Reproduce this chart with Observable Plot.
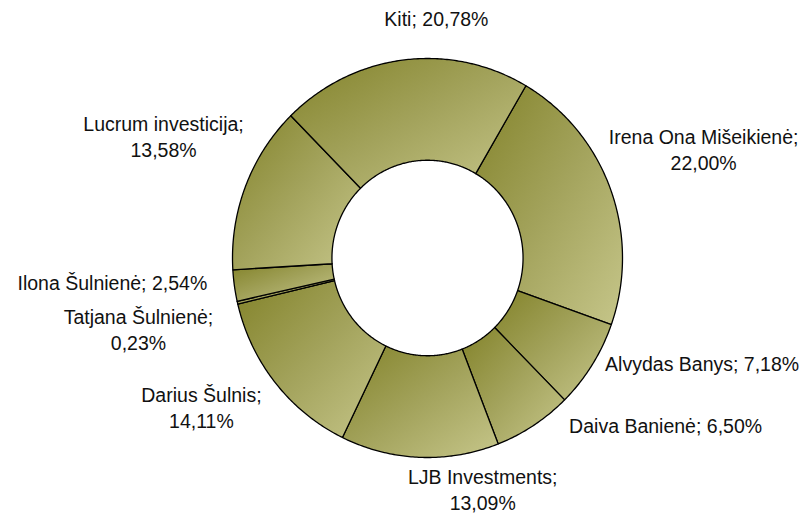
<!DOCTYPE html>
<html>
<head>
<meta charset="utf-8">
<script src="https://cdn.jsdelivr.net/npm/d3@7"></script>
<script src="https://cdn.jsdelivr.net/npm/@observablehq/plot@0.6"></script>
<style>
  html, body { margin: 0; padding: 0; background: #ffffff; }
  #chart svg { display: block; }
</style>
</head>
<body>
<svg width="0" height="0" style="position:absolute">
  <defs>
    <linearGradient id="olive" x1="0" y1="0" x2="1" y2="1">
      <stop offset="0" stop-color="#83832a"/>
      <stop offset="0.5" stop-color="#a3a35c"/>
      <stop offset="1" stop-color="#c6c68a"/>
    </linearGradient>
  </defs>
</svg>
<div id="chart"></div>
<script>
// ---- data ----
const holders = ["Irena Ona Mišeikienė", "Alvydas Banys", "Daiva Banienė", "LJB Investments", "Darius Šulnis", "Tatjana Šulnienė", "Ilona Šulnienė", "Lucrum investicija", "Kiti"];
const shares = [22.00, 7.18, 6.50, 13.09, 14.11, 0.23, 2.54, 13.58, 20.78];
const wrapLabel = [true, false, false, true, true, true, false, true, false];

// ---- layout ----
const W = 802, H = 514;
const M = {top: 58, right: 180, bottom: 57, left: 232};
const rx = (W - M.left - M.right) / 2, ry = (H - M.top - M.bottom) / 2;
const startDeg = 30.3;
const innerRatio = 0.49;
// label offsets in pixels from the slice's outer mid point
const labelNudge = [[93, -41], [110, -2], [132, -1], [63, 31], [-74, 24], [-99, 26], [-122, -4], [-82, -51], [33, -42]];

const total = d3.sum(shares);
const ends = Array.from(d3.cumsum(shares));
const rad = d => d * Math.PI / 180;

const ring = [];
const labels = [];
shares.forEach((v, i) => {
  const a0 = rad(startDeg + (ends[i] - v) / total * 360);
  const a1 = rad(startDeg + ends[i] / total * 360);
  const n = Math.max(2, Math.ceil((a1 - a0) / 0.01));
  const pts = [];
  for (let k = 0; k <= n; k++) { const a = a0 + (a1 - a0) * k / n; pts.push([Math.sin(a), Math.cos(a)]); }
  for (let k = n; k >= 0; k--) { const a = a0 + (a1 - a0) * k / n; pts.push([innerRatio * Math.sin(a), innerRatio * Math.cos(a)]); }
  pts.push(pts[0]);
  pts.forEach(([x, y]) => ring.push({slice: holders[i], x, y}));
  const mid = (a0 + a1) / 2;
  const pct = shares[i].toFixed(2).replace(".", ",") + "%";
  labels.push({
    text: holders[i] + ";" + (wrapLabel[i] ? "\n" : " ") + pct,
    x: Math.sin(mid) + labelNudge[i][0] / rx,
    y: Math.cos(mid) - labelNudge[i][1] / ry
  });
});

const chart = Plot.plot({
  width: W,
  height: H,
  marginTop: M.top,
  marginRight: M.right,
  marginBottom: M.bottom,
  marginLeft: M.left,
  x: {domain: [-1, 1], axis: null},
  y: {domain: [-1, 1], axis: null},
  style: {fontFamily: "'Liberation Sans', Arial, sans-serif", background: "#ffffff", overflow: "visible"},
  marks: [
    Plot.line(ring, {x: "x", y: "y", z: "slice", fill: "url(#olive)", stroke: "#000000", strokeWidth: 1.3, strokeLinejoin: "round"}),
    Plot.text(labels, {x: "x", y: "y", text: "text", fontSize: 19.5, lineHeight: 1.34, fill: "#111111", textAnchor: "middle"})
  ]
});
document.getElementById("chart").appendChild(chart);
</script>
</body>
</html>
